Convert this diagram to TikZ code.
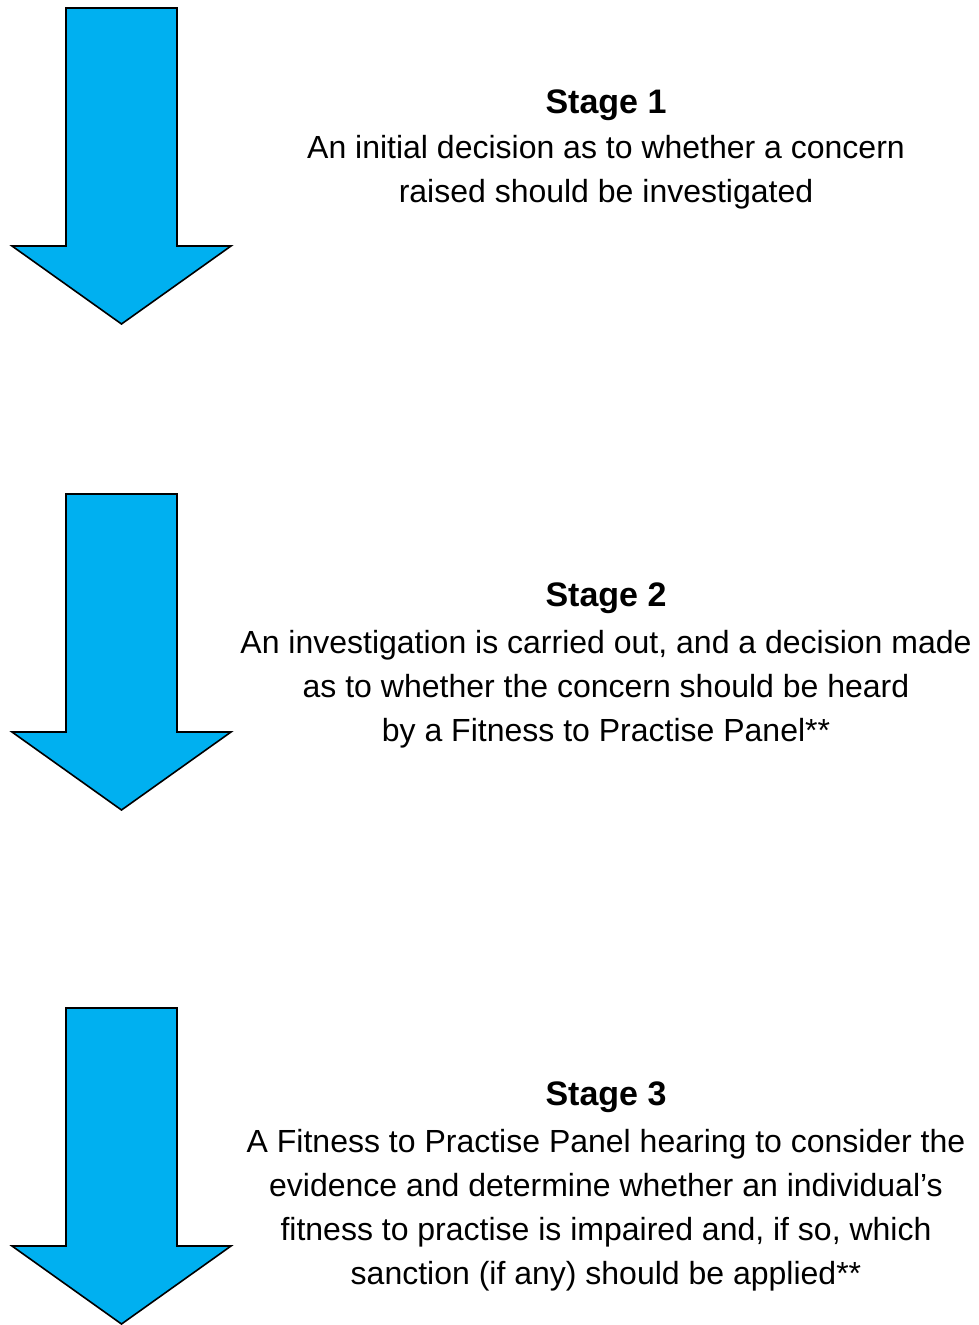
\documentclass[tikz,border=0pt]{standalone}
\usepackage{fontspec}
\setmainfont{Liberation Sans}
\usepackage{tikz}
\usetikzlibrary{positioning, calc}

\definecolor{arrowblue}{RGB}{0,176,240}

\tikzset{
  stagearrow/.style={fill=arrowblue, draw=black, line width=1.6pt, line join=miter},
  stagetitle/.style={anchor=base, font=\fontsize{34}{44}\selectfont\bfseries},
  stagetext/.style={anchor=base, align=center, font=\fontsize{32}{44}\selectfont}
}

\begin{document}
\begin{tikzpicture}[x=1pt, y=-1pt]
\useasboundingbox (0,0) rectangle (979,1325);

% Down arrows, one per stage
\foreach \top in {8, 494, 1008} {
  \draw[stagearrow] (66,\top) -- (177,\top) -- (177,\top+238) -- (231,\top+238)
    -- (121.5,\top+316) -- (12,\top+238) -- (66,\top+238) -- cycle;
}

% Stage 1 (text node sits on the baseline of its last line)
\node[stagetitle] (s1) at (606,113) {Stage 1};
\node[stagetext] (s1txt) at (606,202) {An initial decision as to whether a concern\\
raised should be investigated};

% Stage 2
\node[stagetitle] (s2) at (606,606) {Stage 2};
\node[stagetext] (s2txt) at (606,741) {An investigation is carried out, and a decision made\\
as to whether the concern should be heard\\
by a Fitness to Practise Panel**};

% Stage 3
\node[stagetitle] (s3) at (606,1105) {Stage 3};
\node[stagetext] (s3txt) at (606,1284) {A Fitness to Practise Panel hearing to consider the\\
evidence and determine whether an individual’s\\
fitness to practise is impaired and, if so, which\\
sanction (if any) should be applied**};
\end{tikzpicture}
\end{document}
